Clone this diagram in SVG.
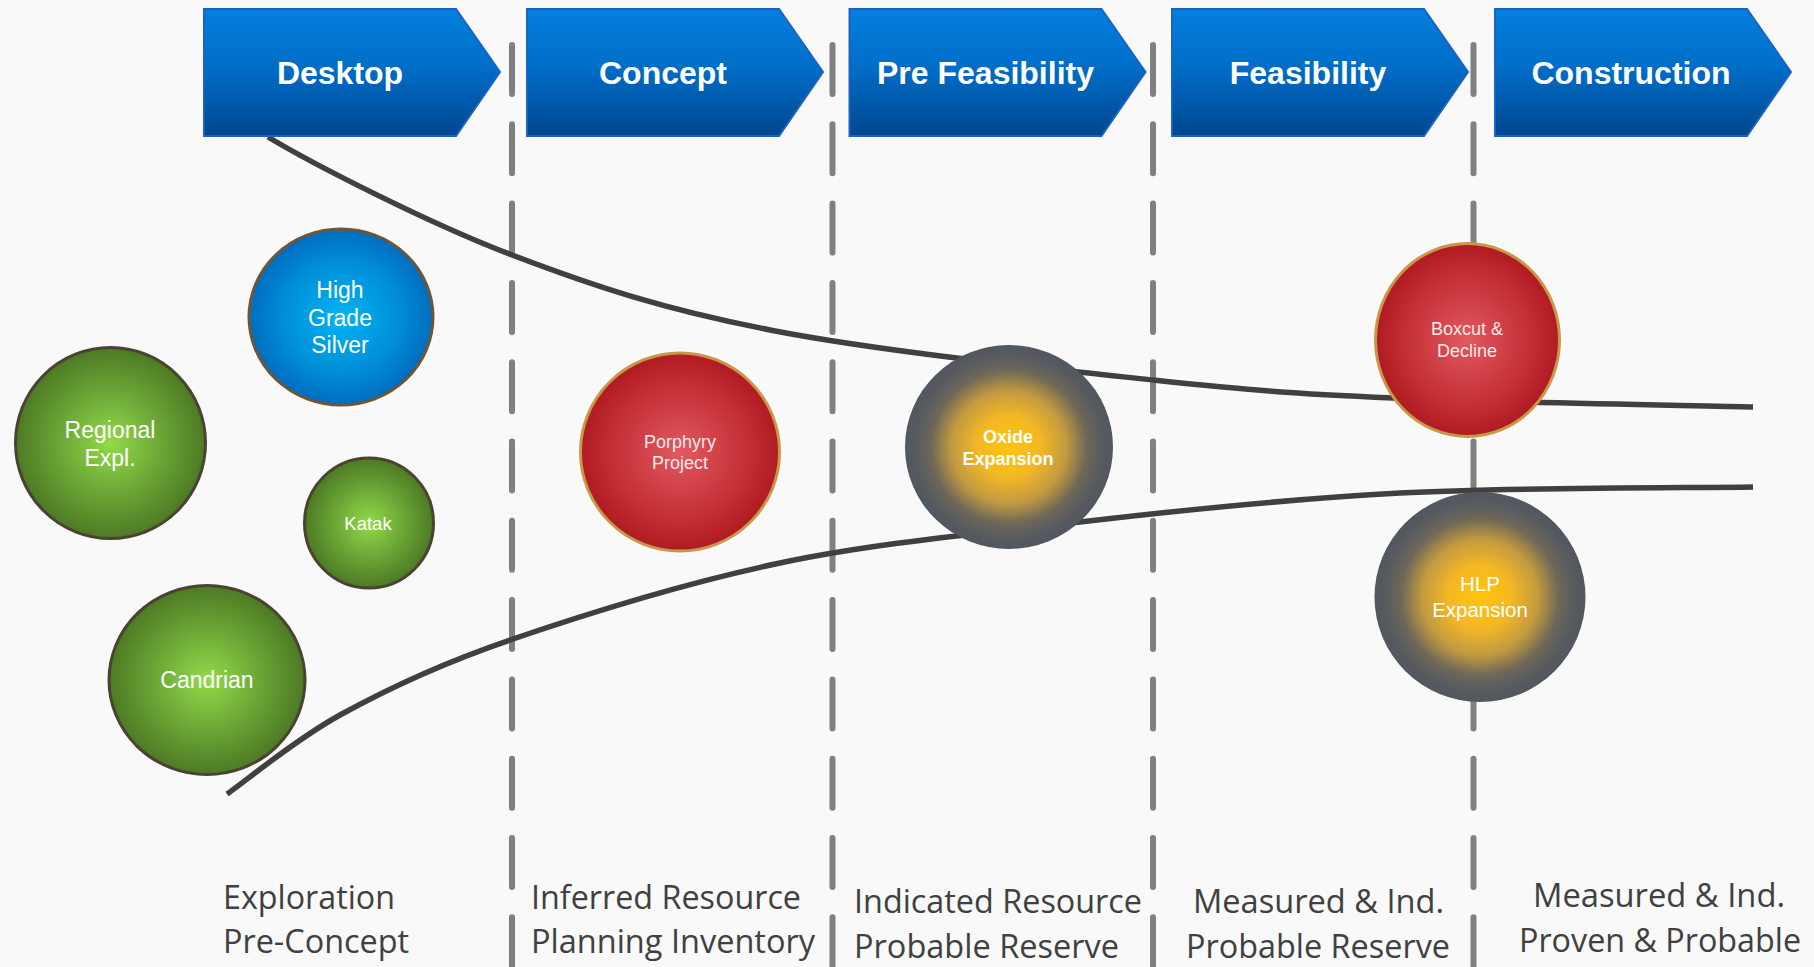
<svg xmlns="http://www.w3.org/2000/svg" width="1814" height="967" viewBox="0 0 1814 967">
<defs>
<linearGradient id="gHead" x1="0" y1="0" x2="0" y2="1">
<stop offset="0" stop-color="#0380de"/>
<stop offset="0.45" stop-color="#006ec8"/>
<stop offset="1" stop-color="#00468e"/>
</linearGradient>
<radialGradient id="gGreen" cx="0.5" cy="0.5" r="0.5">
<stop offset="0" stop-color="#93da4a"/>
<stop offset="0.55" stop-color="#6aa535"/>
<stop offset="1" stop-color="#4d7a24"/>
</radialGradient>
<radialGradient id="gBlue" cx="0.5" cy="0.5" r="0.5">
<stop offset="0" stop-color="#00b4f0"/>
<stop offset="0.6" stop-color="#0090da"/>
<stop offset="1" stop-color="#006dbf"/>
</radialGradient>
<radialGradient id="gRed" cx="0.5" cy="0.5" r="0.5">
<stop offset="0" stop-color="#e15a61"/>
<stop offset="0.6" stop-color="#c7343a"/>
<stop offset="1" stop-color="#af1b20"/>
</radialGradient>
<radialGradient id="gGold" cx="0.5" cy="0.5" r="0.5">
<stop offset="0" stop-color="#ffc40a"/>
<stop offset="0.3" stop-color="#f4b824"/>
<stop offset="0.55" stop-color="#c29a40"/>
<stop offset="0.75" stop-color="#6e6858"/>
<stop offset="0.9" stop-color="#575a60"/>
<stop offset="1" stop-color="#52575e"/>
</radialGradient>
<style>
.chev{fill:url(#gHead);stroke:#1a62c4;stroke-width:2}
.htxt{font-family:"Liberation Sans",Arial,sans-serif;font-weight:bold;font-size:32px;fill:#ffffff;text-anchor:middle}
.sep{stroke:#808080;stroke-width:6;stroke-linecap:round;stroke-dasharray:49 30.3;fill:none}
.curve{stroke:#404040;stroke-width:5.5;fill:none}
.green{fill:url(#gGreen);stroke:#4a4233;stroke-width:3}
.blue{fill:url(#gBlue);stroke:#6e5536;stroke-width:3}
.red{fill:url(#gRed);stroke:#c9974a;stroke-width:3}
.gold{fill:url(#gGold)}
.ctxt{font-family:"Liberation Sans",Arial,sans-serif;fill:#ffffff;text-anchor:middle}
.rtxt{font-family:"Liberation Sans",Arial,sans-serif;fill:#fbe8e8;text-anchor:middle}
.btxt{font-family:"Open Sans","Liberation Sans",sans-serif;font-size:32px;fill:#404040}
</style>
</defs>
<rect x="0" y="0" width="1814" height="967" fill="#f9f9f9"/>

<g id="connectors">
<line class="sep" x1="512" y1="45" x2="512" y2="967"/>
<line class="sep" x1="832.5" y1="45" x2="832.5" y2="967"/>
<line class="sep" x1="1153" y1="45" x2="1153" y2="967"/>
<line class="sep" x1="1473.5" y1="45" x2="1473.5" y2="967"/>
<path class="curve" d="M268,137 C313,164 428,223 512,255 C596,287 663,309 770,330 C877,351 1049,369 1153,380 C1257,391 1293,393.5 1393,398 C1493,402.5 1693,405.5 1753,407"/>
<path class="curve" d="M227,794 C246,781 293,741 340,715 C387,689 437,665 510,640 C583,615 685,583 780,563 C875,543 977,534 1080,522 C1183,510 1288,499 1400,493 C1512,487 1694,488 1753,487"/>
</g>

<g id="stage-desktop">
<path class="chev" d="M204,9 H456 L500,72 L456,136 H204 Z"/>
<text class="htxt" x="340" y="84">Desktop</text>
</g>
<g id="stage-concept">
<path class="chev" d="M527,9 H779 L823,72 L779,136 H527 Z"/>
<text class="htxt" x="663" y="84">Concept</text>
</g>
<g id="stage-prefeasibility">
<path class="chev" d="M849.5,9 H1101.5 L1145.5,72 L1101.5,136 H849.5 Z"/>
<text class="htxt" x="985.5" y="84">Pre Feasibility</text>
</g>
<g id="stage-feasibility">
<path class="chev" d="M1172,9 H1424 L1468,72 L1424,136 H1172 Z"/>
<text class="htxt" x="1308" y="84">Feasibility</text>
</g>
<g id="stage-construction">
<path class="chev" d="M1495,9 H1747 L1791,72 L1747,136 H1495 Z"/>
<text class="htxt" x="1631" y="84">Construction</text>
</g>

<g id="node-high-grade-silver">
<ellipse class="blue" cx="341" cy="317" rx="92" ry="88"/>
<text class="ctxt" font-size="23" x="340" y="298">High</text>
<text class="ctxt" font-size="23" x="340" y="326">Grade</text>
<text class="ctxt" font-size="23" x="340" y="353">Silver</text>
</g>
<g id="node-regional-expl">
<ellipse class="green" cx="110.5" cy="443" rx="95" ry="95.5"/>
<text class="ctxt" font-size="23" x="110" y="438">Regional</text>
<text class="ctxt" font-size="23" x="110" y="466">Expl.</text>
</g>
<g id="node-katak">
<ellipse class="green" cx="369" cy="523" rx="64.5" ry="65"/>
<text class="ctxt" font-size="18.5" x="368" y="530">Katak</text>
</g>
<g id="node-candrian">
<ellipse class="green" cx="207" cy="680" rx="98" ry="94.5"/>
<text class="ctxt" font-size="23" x="207" y="688">Candrian</text>
</g>
<g id="node-porphyry-project">
<ellipse class="red" cx="680" cy="452" rx="99.5" ry="99"/>
<text class="rtxt" font-size="18" x="680" y="448">Porphyry</text>
<text class="rtxt" font-size="18" x="680" y="469">Project</text>
</g>
<g id="node-oxide-expansion">
<ellipse class="gold" cx="1009" cy="447" rx="104" ry="102"/>
<text class="ctxt" font-size="18" font-weight="bold" x="1008" y="443">Oxide</text>
<text class="ctxt" font-size="18" font-weight="bold" x="1008" y="465">Expansion</text>
</g>
<g id="node-boxcut-decline">
<ellipse class="red" cx="1467.5" cy="340" rx="92" ry="96.5"/>
<text class="rtxt" font-size="18" x="1467" y="335">Boxcut &amp;</text>
<text class="rtxt" font-size="18" x="1467" y="357">Decline</text>
</g>
<g id="node-hlp-expansion">
<ellipse class="gold" cx="1480" cy="597" rx="105.5" ry="105"/>
<text class="ctxt" font-size="20.5" x="1480" y="591">HLP</text>
<text class="ctxt" font-size="20.5" x="1480" y="617">Expansion</text>
</g>

<g id="labels">
<text class="btxt" x="223" y="909" textLength="172" lengthAdjust="spacingAndGlyphs">Exploration</text>
<text class="btxt" x="223" y="953" textLength="186" lengthAdjust="spacingAndGlyphs">Pre-Concept</text>
<text class="btxt" x="531" y="909" textLength="270" lengthAdjust="spacingAndGlyphs">Inferred Resource</text>
<text class="btxt" x="531" y="953" textLength="284" lengthAdjust="spacingAndGlyphs">Planning Inventory</text>
<text class="btxt" x="854" y="913" textLength="288" lengthAdjust="spacingAndGlyphs">Indicated Resource</text>
<text class="btxt" x="854" y="958" textLength="265" lengthAdjust="spacingAndGlyphs">Probable Reserve</text>
<text class="btxt" x="1193" y="913" textLength="251" lengthAdjust="spacingAndGlyphs">Measured &amp; Ind.</text>
<text class="btxt" x="1186" y="958" textLength="264" lengthAdjust="spacingAndGlyphs">Probable Reserve</text>
<text class="btxt" x="1533" y="907" textLength="252" lengthAdjust="spacingAndGlyphs">Measured &amp; Ind.</text>
<text class="btxt" x="1519" y="952" textLength="282" lengthAdjust="spacingAndGlyphs">Proven &amp; Probable</text>
</g>
</svg>
